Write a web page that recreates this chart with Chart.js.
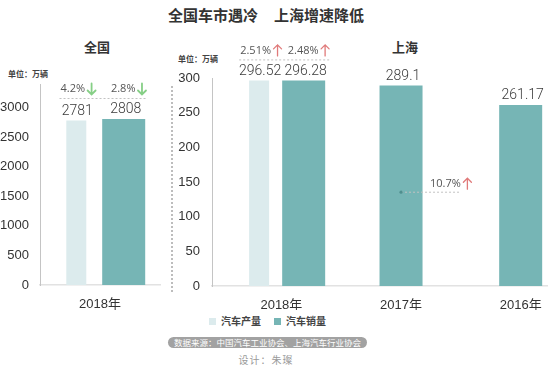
<!DOCTYPE html>
<html><head><meta charset="utf-8">
<script src="https://cdn.jsdelivr.net/npm/chart.js@4"></script>
<style>
html,body{margin:0;padding:0;background:#fff;}
body{width:550px;height:366px;position:relative;overflow:hidden;font-family:"Noto Sans CJK SC",sans-serif;}
.abs{position:absolute;white-space:nowrap;}
canvas{position:absolute;}
</style></head><body>
<div class="abs" style="left:0;width:532px;top:5px;line-height:20px;text-align:center;font-size:15px;font-weight:bold;color:#333;">全国车市遇冷<span style="display:inline-block;width:16px"></span>上海增速降低</div>
<div class="abs" style="left:67px;width:60px;top:37px;line-height:20px;text-align:center;font-size:13px;font-weight:bold;color:#333;">全国</div>
<div class="abs" style="left:375px;width:60px;top:37px;line-height:20px;text-align:center;font-size:13px;font-weight:bold;color:#333;">上海</div>
<div class="abs" style="left:8px;top:67px;line-height:14px;font-size:8px;font-weight:bold;color:#444;">单位：万辆</div>
<div class="abs" style="left:178px;top:52px;line-height:14px;font-size:8px;font-weight:bold;color:#444;">单位：万辆</div>
<div class="abs" style="left:171px;top:86px;height:206px;border-left:2px dotted #bdbdbd;"></div>

<canvas id="c1" width="170" height="280" style="left:0;top:30px;"></canvas>
<canvas id="c2" width="380" height="280" style="left:170px;top:30px;"></canvas>

<div class="abs" style="left:209px;top:318px;width:7px;height:7px;background:#dcebed;"></div>
<div class="abs" style="left:221px;top:314px;line-height:14px;font-size:10px;font-weight:600;color:#444;">汽车产量</div>
<div class="abs" style="left:274px;top:318px;width:7px;height:7px;background:#76b5b5;"></div>
<div class="abs" style="left:286px;top:314px;line-height:14px;font-size:10px;font-weight:600;color:#444;">汽车销量</div>
<div class="abs" style="left:168px;top:337px;width:199px;height:11px;border-radius:6px;background:#a2a2a2;color:#fff;font-size:8.5px;line-height:11px;text-align:center;">数据来源：中国汽车工业协会、上海汽车行业协会</div>
<div class="abs" style="left:216px;width:100px;top:353px;line-height:14px;text-align:center;font-size:10px;letter-spacing:1px;color:#999;">设计：朱璨</div>

<script>
// ---- data ----
const nationCats = ['2018年'];
const nationProd = [2781];
const nationSales = [2808];
const nationProdPct = ['4.2%'];
const nationSalesPct = ['2.8%'];
const nationTicks = [0, 500, 1000, 1500, 2000, 2500, 3000];

const shCats = ['2018年', '2017年', '2016年'];
const shProd = [296.52, null, null];
const shSales = [296.28, 289.1, 261.17];
const shProdPct = ['2.51%'];
const shSalesPct = ['2.48%'];
const shGrowth = ['10.7%'];   // 2017 vs 2016 sales growth
const shTicks = [0, 50, 100, 150, 200, 250, 300];

const seriesNames = ['汽车产量', '汽车销量'];
const PROD_COLOR = '#dcebed';
const SALES_COLOR = '#76b5b5';
const UP = '#e07a7a', DOWN = '#86cf86';

const NUM_FONT = 'Roboto, "Open Sans", sans-serif';
const PCT_FONT = '"Open Sans", sans-serif';
const TICK_FONT = '"Liberation Sans", "Noto Sans CJK SC", sans-serif';

function arrow(ctx, x, y, up, color) {
  ctx.save();
  ctx.strokeStyle = color;
  ctx.lineWidth = up ? 1.3 : 1.8;
  ctx.lineCap = 'round';
  const h = 5.5, w = 4;
  ctx.beginPath();
  if (up) {
    ctx.moveTo(x, y + h); ctx.lineTo(x, y - h);
    ctx.moveTo(x - w, y - h + w); ctx.lineTo(x, y - h); ctx.lineTo(x + w, y - h + w);
  } else {
    ctx.moveTo(x, y - h); ctx.lineTo(x, y + h);
    ctx.moveTo(x - w, y + h - w); ctx.lineTo(x, y + h); ctx.lineTo(x + w, y + h - w);
  }
  ctx.stroke();
  ctx.restore();
}

function pctLabel(ctx, cx, y, text, up) {
  ctx.font = '11px ' + PCT_FONT;
  const w = ctx.measureText(text).width;
  const total = w + 2 + 9;
  const x0 = cx - total / 2;
  ctx.fillStyle = '#555';
  ctx.textAlign = 'left';
  ctx.textBaseline = 'middle';
  ctx.fillText(text, x0, y);
  arrow(ctx, x0 + w + 2 + 4.5, y, up, up ? UP : DOWN);
  return [x0, x0 + total];
}

function dashed(ctx, x1, x2, y) {
  ctx.save();
  ctx.strokeStyle = '#c2c2c2';
  ctx.lineWidth = 1;
  ctx.setLineDash([2, 2]);
  ctx.beginPath();
  ctx.moveTo(x1, y + 0.5); ctx.lineTo(x2, y + 0.5);
  ctx.stroke();
  ctx.restore();
}

function valueLabels(chart) {
  const ctx = chart.ctx;
  ctx.save();
  ctx.font = '300 14px ' + NUM_FONT;
  ctx.fillStyle = '#3a3a3a';
  ctx.textAlign = 'center';
  ctx.textBaseline = 'middle';
  chart.data.datasets.forEach((ds, i) => {
    chart.getDatasetMeta(i).data.forEach((el, j) => {
      const v = ds.data[j];
      const val = (v && typeof v === 'object') ? v.y : v;
      if (val === null || val === undefined) return;
      ctx.fillText(String(val), el.x + (i === 0 ? 1 : 2), el.y - 9);
    });
  });
  ctx.restore();
}

function groupAnnot(chart, prodPct, salesPct, up) {
  const ctx = chart.ctx;
  const p = chart.getDatasetMeta(0).data[0];
  const s = chart.getDatasetMeta(1).data[0];
  const top = Math.min(p.y, s.y);
  ctx.save();
  const a = pctLabel(ctx, p.x + 2, top - 30, prodPct, up);
  const b = pctLabel(ctx, s.x + 5, top - 30, salesPct, up);
  dashed(ctx, a[0] - 1, b[1], top - 21);
  ctx.restore();
}

const nationPlugin = {
  id: 'nationAnnot',
  afterDatasetsDraw(chart) {
    valueLabels(chart);
    groupAnnot(chart, nationProdPct[0], nationSalesPct[0], false);
  }
};

const shPlugin = {
  id: 'shAnnot',
  afterDatasetsDraw(chart) {
    valueLabels(chart);
    groupAnnot(chart, shProdPct[0], shSalesPct[0], true);
    const ctx = chart.ctx;
    const el = chart.getDatasetMeta(1).data[1];
    const y = chart.scales.y.getPixelForValue(136);
    ctx.save();
    dashed(ctx, el.x, el.x + 58, y);
    ctx.fillStyle = '#4f8f8f';
    ctx.beginPath(); ctx.arc(el.x, y + 0.5, 1.6, 0, Math.PI * 2); ctx.fill();
    ctx.font = '11px ' + PCT_FONT;
    ctx.fillStyle = '#555';
    ctx.textAlign = 'left';
    ctx.textBaseline = 'middle';
    const tx = el.x + 29;
    ctx.fillText(shGrowth[0], tx, y - 8);
    const w = ctx.measureText(shGrowth[0]).width;
    arrow(ctx, tx + w + 2 + 4.5, y - 8, true, UP);
    ctx.restore();
  }
};

const common = {
  responsive: false,
  animation: false,
  events: [],
  plugins: { legend: { display: false }, tooltip: { enabled: false } }
};

new Chart(document.getElementById('c1'), {
  type: 'bar',
  data: {
    labels: nationCats,
    datasets: [
      { label: seriesNames[0], data: nationProd, backgroundColor: PROD_COLOR,
        maxBarThickness: 20, barPercentage: 1, categoryPercentage: 0.79 },
      { label: seriesNames[1], data: nationSales, backgroundColor: SALES_COLOR,
        maxBarThickness: 43, barPercentage: 1, categoryPercentage: 0.79 }
    ]
  },
  options: Object.assign({}, common, {
    layout: { padding: { top: 54, right: 10, left: 0, bottom: 0 } },
    scales: {
      x: {
        grid: { display: false },
        border: { display: true, color: '#e2e2e2', width: 1.5 },
        ticks: { color: '#333', font: { family: TICK_FONT, size: 13 }, padding: 4 },
        afterFit: s => { s.height = 25; }
      },
      y: {
        min: 0, max: 3400,
        afterBuildTicks: s => { s.ticks = nationTicks.map(v => ({ value: v })); },
        grid: { display: false },
        border: { display: true, color: '#c4c4c4', width: 1, dash: [2, 2] },
        ticks: { color: '#333', font: { family: TICK_FONT, size: 13 }, padding: 3,
                 callback: v => String(v) },
        afterFit: s => { s.width = 40; }
      }
    }
  }),
  plugins: [nationPlugin]
});

new Chart(document.getElementById('c2'), {
  type: 'bar',
  data: {
    datasets: [
      { label: seriesNames[0], data: shProd.map((v, i) => ({ x: i, y: v })), backgroundColor: PROD_COLOR,
        maxBarThickness: 20, barPercentage: 1, categoryPercentage: 0.745, skipNull: true },
      { label: seriesNames[1], data: shSales.map((v, i) => ({ x: i, y: v })), backgroundColor: SALES_COLOR,
        maxBarThickness: 43, barPercentage: 1, categoryPercentage: 0.745, skipNull: true }
    ]
  },
  options: Object.assign({}, common, {
    layout: { padding: { top: 48, right: 3, left: 0, bottom: 0 } },
    scales: {
      x: {
        type: 'linear',
        min: -0.58, max: 2.22,
        offset: false,
        afterBuildTicks: s => { s.ticks = shCats.map((c, i) => ({ value: i })); },
        grid: { display: false, offset: false },
        border: { display: true, color: '#e2e2e2', width: 1.5 },
        ticks: { color: '#333', font: { family: TICK_FONT, size: 13 }, padding: 4,
                 maxRotation: 0, autoSkip: false,
                 callback: v => shCats[Math.round(v)] },
        afterFit: s => { s.height = 24; }
      },
      y: {
        min: 0, max: 300,
        afterBuildTicks: s => { s.ticks = shTicks.map(v => ({ value: v })); },
        grid: { display: false },
        border: { display: true, color: '#c4c4c4', width: 1, dash: [2, 2] },
        ticks: { color: '#333', font: { family: TICK_FONT, size: 13 }, padding: 4,
                 callback: v => String(v) },
        afterFit: s => { s.width = 42; }
      }
    }
  }),
  plugins: [shPlugin]
});
</script>
</body></html>
